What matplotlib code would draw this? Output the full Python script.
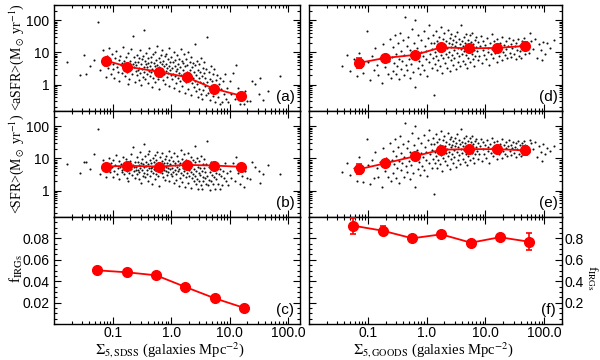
import numpy as np
import matplotlib
matplotlib.use('Agg')
import matplotlib.pyplot as plt
from matplotlib.ticker import LogLocator, NullFormatter, MultipleLocator

# ---------------- data ----------------
# binned values, SDSS (left column)
sdss_bin_x_ab = [0.076, 0.179, 0.614, 1.85, 5.28, 15.5]
sdss_asfr = [5.6, 3.6, 2.5, 1.7, 0.75, 0.45]
sdss_asfr_err_dex = [0.03, 0.03, 0.03, 0.03, 0.03, 0.04]
sdss_sfr = [5.6, 5.9, 5.6, 6.3, 6.0, 5.5]
sdss_sfr_err_dex = [0.03, 0.03, 0.03, 0.03, 0.03, 0.03]
sdss_bin_x_c = [0.054, 0.177, 0.554, 1.75, 5.56, 17.7]
sdss_firg = [0.0502, 0.0483, 0.0455, 0.0346, 0.0240, 0.0150]
sdss_firg_err = [0.0012, 0.0010, 0.0010, 0.0010, 0.0012, 0.0030]

# binned values, GOODS (right column)
goods_bin_x_de = [0.070, 0.194, 0.64, 1.77, 5.2, 15.8, 46.7]
goods_asfr = [4.7, 6.7, 8.4, 14.4, 13.4, 13.8, 15.9]
goods_asfr_err_dex = [0.15, 0.05, 0.05, 0.06, 0.05, 0.05, 0.12]
goods_sfr = [4.6, 7.0, 11.8, 18.7, 19.5, 19.5, 17.8]
goods_sfr_err_dex = [0.16, 0.05, 0.05, 0.06, 0.05, 0.05, 0.15]
goods_bin_x_f = [0.055, 0.179, 0.57, 1.77, 5.65, 17.5, 55.0]
goods_firg = [0.92, 0.872, 0.801, 0.838, 0.760, 0.811, 0.769]
goods_firg_err = [0.075, 0.042, 0.012, 0.015, 0.012, 0.028, 0.078]

# individual galaxies (log10 values), SDSS: density, aSFR, SFR
sdss_logx = [
    -1.774,-1.561,-1.483,-1.392,-1.253,-1.318,-1.207,-1.169,-1.142,-1.118,-1.101,-1.446,
    -1.083,-1.061,-1.047,-1.032,-1.014,-0.996,-0.987,-0.968,-0.953,-0.941,-0.925,-0.912,-0.897,-0.884,-0.873,-0.861,
    -0.846,-0.834,-0.822,-0.811,-0.798,-0.786,-0.773,-0.762,-0.749,-0.737,-0.724,-0.713,-0.701,-0.692,-0.681,-0.668,
    -0.657,-0.646,-0.638,-0.627,-0.619,-0.611,-0.604,-0.733,
    -0.596,-0.588,-0.579,-0.571,-0.563,-0.556,-0.548,-0.541,-0.532,-0.524,-0.517,-0.509,-0.502,-0.494,-0.487,-0.479,
    -0.471,-0.463,-0.456,-0.448,-0.441,-0.433,-0.426,-0.418,-0.411,-0.403,-0.396,-0.389,-0.381,-0.374,-0.366,-0.359,
    -0.351,-0.344,-0.336,-0.329,-0.321,-0.314,-0.306,-0.299,-0.291,-0.284,-0.276,-0.269,-0.261,-0.254,-0.246,-0.239,
    -0.231,-0.224,-0.216,-0.209,-0.201,-0.194,-0.186,-0.179,-0.171,-0.164,-0.156,-0.149,-0.141,-0.134,-0.126,-0.119,
    -0.111,-0.104,-0.096,-0.089,-0.081,-0.074,-0.066,-0.059,-0.051,-0.044,-0.036,-0.029,-0.021,-0.014,-0.006,
    0.003,0.011,0.018,0.026,0.034,0.041,0.049,0.057,0.064,0.072,0.079,0.087,0.095,0.102,0.110,0.117,
    0.125,0.133,0.140,0.148,0.156,0.163,0.171,0.178,0.186,0.194,0.201,0.209,0.216,0.224,0.232,0.239,
    0.247,0.254,0.262,0.270,0.277,0.285,0.293,0.300,0.308,0.315,0.323,0.331,0.338,0.346,0.353,0.361,
    0.369,0.376,0.384,0.391,0.399,0.407,0.414,0.422,0.429,0.437,0.445,0.452,0.460,0.467,0.475,0.483,
    0.490,0.498,0.505,0.513,0.521,0.528,0.536,0.543,0.551,0.559,0.566,0.574,0.582,0.589,0.597,
    0.608,0.619,0.627,0.638,0.649,0.657,0.668,0.679,0.687,0.698,0.709,0.717,0.728,0.739,0.751,0.762,
    0.773,0.787,0.798,0.812,0.826,0.839,0.853,0.868,0.884,0.901,0.917,0.934,0.956,0.973,0.998,1.027,
    1.054,1.082,1.113,1.146,1.172,
    1.214,1.262,1.301,1.342,1.384,1.423,1.497,1.563,1.648,1.858,1.521,1.239]
sdss_log_asfr = [
    0.702,0.291,0.913,0.584,1.947,0.776,0.438,1.062,0.617,0.238,0.884,0.327,
    0.523,1.137,0.716,0.342,0.957,0.481,0.638,0.213,0.824,1.046,0.557,0.402,0.761,0.118,0.903,0.594,
    0.347,0.682,1.184,0.462,0.719,0.258,0.866,0.533,0.391,0.978,0.615,0.176,0.744,0.488,1.093,0.327,
    0.652,1.503,0.541,0.843,0.074,0.702,0.419,0.028,
    0.612,0.283,0.927,0.456,0.708,0.132,0.839,0.519,1.062,0.364,0.647,-0.021,0.781,0.472,0.227,0.893,
    0.558,1.702,0.401,0.734,0.167,0.629,0.984,0.318,0.532,0.812,0.052,0.684,0.437,1.141,0.269,0.592,
    0.872,0.386,0.713,-0.087,0.498,0.941,0.214,0.657,0.423,1.018,0.571,0.093,0.764,0.347,0.603,1.194,
    0.452,0.186,0.826,0.539,-0.142,0.694,0.381,0.917,0.252,0.627,0.473,1.072,0.139,0.742,0.318,0.568,
    0.883,0.027,0.654,0.409,0.962,0.223,0.517,0.781,0.358,1.126,0.592,-0.053,0.447,0.716,0.284,
    0.861,0.512,0.163,0.698,0.341,1.027,-0.108,0.587,0.254,0.773,0.426,0.038,0.918,0.482,0.197,0.641,
    -0.213,0.372,0.809,0.113,0.556,1.117,0.298,0.727,-0.036,0.461,0.182,0.664,0.937,0.327,-0.274,0.571,
    0.089,0.783,0.402,0.236,0.618,-0.142,1.004,0.349,0.134,0.708,0.468,-0.327,0.274,0.852,0.041,0.533,
    0.191,0.679,-0.072,0.387,1.263,0.118,0.597,-0.213,0.306,0.742,0.026,0.448,-0.384,0.217,0.633,-0.128,
    0.379,0.094,0.812,-0.293,0.251,-0.452,0.517,0.057,-0.178,0.364,0.687,-0.036,0.198,-0.337,0.473,
    0.083,1.472,-0.262,0.392,-0.114,0.187,-0.497,0.578,-0.198,0.097,0.336,-0.362,-0.043,0.487,-0.554,0.142,
    -0.247,0.287,-0.403,0.012,-0.604,0.216,-0.146,-0.541,0.097,-0.298,0.342,-0.452,-0.097,-0.533,0.108,-0.302,
    0.348,-0.447,0.621,-0.121,-0.597,
    -0.352,-0.197,-0.503,-0.521,0.097,0.018,-0.304,-0.487,-0.198,0.27,0.21,-0.6]
sdss_log_sfr = [
    0.812,0.547,0.874,0.667,1.928,1.127,0.521,0.958,0.793,0.412,0.706,0.903,
    0.664,1.018,0.588,0.851,0.724,0.437,0.952,0.619,0.781,1.106,0.503,0.688,0.906,0.357,0.742,0.813,
    0.576,0.641,1.036,0.869,0.527,0.734,0.978,0.612,0.403,0.857,0.773,0.548,0.924,0.683,1.152,0.469,
    0.802,1.342,0.597,0.721,0.391,0.887,0.654,0.288,
    0.743,0.512,1.031,0.638,0.904,0.367,0.796,0.582,1.188,0.705,0.851,0.243,0.627,0.994,0.468,0.831,
    0.719,1.453,0.556,1.073,0.412,0.768,0.902,0.649,0.524,1.126,0.301,0.817,0.692,1.247,0.453,0.938,
    0.712,0.604,0.857,0.196,0.742,1.017,0.538,0.679,0.883,1.108,0.627,0.372,0.949,0.511,0.794,1.216,
    0.663,0.457,0.872,0.726,0.148,1.048,0.583,0.807,0.699,0.934,0.552,1.162,0.418,0.763,0.871,0.641,
    0.997,0.326,0.738,0.612,1.083,0.489,0.857,0.702,0.571,1.231,0.944,0.287,0.668,0.816,0.529,
    1.042,0.687,0.451,0.913,0.576,1.168,0.243,0.782,0.629,0.852,0.511,0.338,1.074,0.719,0.603,0.928,
    0.142,0.657,0.781,0.396,0.862,1.253,0.548,0.994,0.274,0.716,0.481,0.843,1.136,0.612,0.106,0.758,
    0.419,0.967,0.684,0.533,0.901,0.227,1.182,0.642,0.467,0.824,0.739,0.087,0.593,1.047,0.392,0.806,
    0.528,0.953,0.301,0.677,1.397,0.462,0.874,0.218,0.623,1.013,0.357,0.748,0.058,0.552,0.906,0.286,
    0.712,0.473,1.062,0.163,0.618,0.041,0.837,0.436,0.312,0.694,0.981,0.398,0.574,0.203,0.823,
    0.452,1.547,0.187,0.743,0.338,0.571,0.024,0.884,0.301,0.492,0.706,0.197,0.419,0.852,0.063,0.547,
    0.352,0.694,0.218,0.503,0.048,0.677,0.448,0.176,0.618,0.397,0.847,0.302,0.546,0.184,0.624,0.402,
    0.853,0.297,1.048,0.553,0.204,
    0.451,0.603,0.398,0.351,0.902,0.748,0.617,0.502,0.803,0.52,0.25,0.12]

# individual galaxies (log10 values), GOODS: density, aSFR, SFR
goods_logx = [
    -1.432,-1.358,-1.297,-1.241,-1.184,-1.152,-1.117,-1.074,-1.018,-0.992,-0.957,-0.931,-0.903,-0.872,-0.846,-0.819,
    -0.791,-0.762,-0.738,-0.714,-0.689,-0.663,-0.641,-0.622,-0.607,
    -0.592,-0.579,-0.566,-0.553,-0.541,-0.528,-0.516,-0.503,-0.491,-0.478,-0.466,-0.453,-0.441,-0.428,-0.416,-0.403,
    -0.391,-0.378,-0.366,-0.353,-0.341,-0.328,-0.316,-0.303,-0.291,-0.278,-0.266,-0.253,-0.241,-0.228,-0.216,-0.203,
    -0.191,-0.178,-0.166,-0.153,-0.141,-0.128,-0.116,-0.103,-0.091,-0.078,-0.066,-0.053,-0.041,-0.028,-0.016,-0.003,
    0.009,0.022,0.034,0.047,0.059,0.072,0.084,
    0.097,0.106,0.114,0.122,0.131,0.139,0.147,0.156,0.164,0.172,0.181,0.189,0.197,0.206,0.214,0.222,
    0.231,0.239,0.247,0.256,0.264,0.272,0.281,0.289,0.297,0.306,0.314,0.322,0.331,0.339,0.347,0.356,
    0.364,0.372,0.381,0.389,0.397,0.406,0.414,0.422,0.431,0.439,0.447,0.456,0.464,0.472,0.481,0.489,
    0.497,0.506,0.514,0.522,0.531,0.539,0.547,0.556,0.564,0.572,0.581,0.589,0.597,0.606,0.614,0.622,
    0.631,0.639,0.647,0.656,0.664,0.672,0.681,0.689,0.697,0.706,0.714,0.722,0.731,0.739,0.747,0.756,
    0.764,0.772,0.781,0.789,0.797,0.806,0.814,0.822,0.831,0.839,
    0.853,0.867,0.881,0.895,0.909,0.923,0.937,0.951,0.965,0.979,0.993,1.007,1.021,1.035,1.049,1.063,
    1.077,1.091,1.105,1.119,1.133,1.147,1.161,1.175,1.189,1.203,1.217,1.231,1.245,1.259,1.273,1.287,
    1.301,1.315,1.329,1.343,1.357,1.371,1.385,1.399,1.413,1.427,1.441,1.455,1.469,1.483,1.497,1.511,
    1.525,1.539,1.553,1.567,1.581,1.595,1.609,1.623,1.637,1.651,1.665,1.679,
    1.712,1.747,1.781,1.812,1.846,1.874,1.908,1.943,1.978,2.012,2.053,2.091,2.162,1.763,1.958]
goods_log_asfr = [
    0.571,0.934,0.412,0.783,0.262,0.997,0.533,0.348,1.682,0.711,0.127,0.884,0.463,1.148,0.612,0.298,
    0.827,0.049,1.263,0.542,0.962,0.336,0.718,1.407,0.193,
    0.873,0.427,1.162,0.684,1.537,0.318,0.952,0.563,1.284,0.162,0.803,1.612,0.497,1.043,0.724,1.386,
    0.283,0.912,2.118,0.618,1.197,0.447,1.472,0.782,0.217,1.068,0.653,1.734,0.932,0.378,1.303,2.021,
    -0.082,0.847,1.124,0.512,1.553,0.737,0.318,1.017,1.376,0.602,0.896,1.663,0.447,1.207,0.783,1.048,
    0.258,1.452,0.693,1.862,0.962,1.283,0.523,
    1.107,0.817,1.543,-0.312,1.286,0.642,1.012,1.672,0.893,1.364,0.462,1.187,0.758,1.472,1.038,0.586,
    1.263,1.793,0.927,1.142,0.347,1.418,0.812,1.068,1.597,0.683,1.226,0.957,1.347,0.527,1.124,1.703,
    0.873,1.292,1.003,0.417,1.452,0.768,1.172,1.563,0.918,1.247,0.623,1.383,1.067,0.837,1.518,1.198,
    0.473,1.312,0.982,1.642,0.714,1.152,1.428,0.887,1.262,0.568,1.093,1.847,0.953,1.357,0.742,1.187,
    1.487,1.032,0.632,1.293,0.917,1.583,1.127,0.512,1.402,0.842,1.213,1.052,1.532,0.693,1.168,1.332,
    0.963,1.617,0.783,1.247,1.078,0.587,1.392,0.903,1.183,1.468,
    1.037,0.752,1.312,0.897,1.187,1.512,0.663,1.083,1.367,0.927,1.228,0.783,1.437,1.012,1.153,0.612,
    1.282,0.947,1.562,1.103,0.838,1.347,0.972,1.212,0.713,1.417,1.067,0.887,1.297,1.142,0.763,1.482,
    1.018,1.242,0.917,1.357,1.093,0.812,1.203,1.452,0.987,1.263,0.862,1.127,1.372,0.952,1.187,0.782,
    1.307,1.062,1.412,0.897,1.232,1.043,0.823,1.347,1.112,1.453,0.962,1.248,
    1.187,0.973,1.353,1.092,1.412,0.842,1.257,1.063,1.334,0.947,1.297,1.147,1.402,1.602,0.761]
goods_log_sfr = [
    0.566,0.872,0.497,0.718,0.304,1.046,0.612,0.267,1.604,0.802,0.213,0.957,0.392,1.207,0.688,0.436,
    0.893,0.118,1.312,0.603,1.024,0.407,0.847,1.468,0.286,
    0.952,0.538,1.247,0.812,1.604,0.403,1.083,0.697,1.362,0.246,0.917,1.688,0.631,1.172,0.847,1.457,
    0.427,1.056,2.094,0.752,1.318,0.592,1.553,0.916,0.368,1.193,0.804,1.792,1.081,0.536,1.421,1.997,
    0.102,0.998,1.263,0.683,1.648,0.892,0.497,1.156,1.493,0.778,1.047,1.742,0.632,1.352,0.947,1.192,
    0.453,1.573,0.872,1.871,1.124,1.437,0.718,
    1.264,0.983,1.652,-0.103,1.438,0.853,1.186,1.753,1.062,1.512,0.708,1.347,0.967,1.604,1.223,0.812,
    1.428,1.862,1.118,1.312,0.612,1.563,1.027,1.257,1.713,0.912,1.403,1.163,1.508,0.784,1.306,1.804,
    1.083,1.464,1.207,0.683,1.597,0.992,1.363,1.682,1.131,1.432,0.868,1.547,1.274,1.058,1.647,1.389,
    0.746,1.483,1.197,1.752,0.953,1.347,1.572,1.112,1.447,0.823,1.296,1.903,1.172,1.518,0.982,1.384,
    1.624,1.248,0.893,1.468,1.143,1.692,1.326,0.788,1.552,1.087,1.407,1.264,1.643,0.942,1.368,1.497,
    1.184,1.708,1.028,1.437,1.286,0.862,1.538,1.127,1.372,1.593,
    1.236,0.984,1.472,1.127,1.373,1.617,0.912,1.284,1.506,1.153,1.412,1.023,1.562,1.227,1.352,0.872,
    1.453,1.176,1.647,1.312,1.078,1.497,1.206,1.398,0.968,1.552,1.283,1.132,1.462,1.337,1.012,1.593,
    1.247,1.417,1.153,1.503,1.312,1.064,1.387,1.567,1.218,1.432,1.107,1.334,1.512,1.183,1.372,1.043,
    1.468,1.287,1.537,1.142,1.404,1.263,1.076,1.487,1.323,1.552,1.192,1.418,
    1.342,1.213,1.467,1.287,1.513,1.047,1.402,1.198,1.452,1.143,1.318,1.247,1.383,1.578,0.928]

# tick labels
x_tick_vals = [0.1, 1, 10, 100]
x_tick_labels = ['0.1', '1.0', '10.0', '100.0']
log_y_tick_vals = [1, 10, 100]
log_y_tick_labels = ['1', '10', '100']
f_sdss_ticks = [0.02, 0.04, 0.06, 0.08]
f_goods_ticks = [0.2, 0.4, 0.6, 0.8]

# ---------------- style ----------------
plt.rcParams['font.family'] = ['Liberation Sans', 'DejaVu Sans']
plt.rcParams['mathtext.fontset'] = 'stix'
RED = '#ff0000'
SERIF = ['Liberation Serif', 'DejaVu Serif']

fig = plt.figure(figsize=(6, 3.6), dpi=100)
colx = [(0.09, 0.41), (0.515, 0.4217)]
rows = [(0.6917, 0.2944), (0.3972, 0.2944), (0.10, 0.2972)]
xlims = [(0.01, 158), (0.01, 200)]

axes = {}
for c in range(2):
    for r in range(3):
        ax = fig.add_axes([colx[c][0], rows[r][0], colx[c][1], rows[r][1]])
        axes[(r, c)] = ax
        ax.set_xscale('log')
        ax.set_xlim(*xlims[c])
        ax.set_xticks(x_tick_vals)
        ax.xaxis.set_minor_locator(LogLocator(base=10, subs=np.arange(2, 10), numticks=20))
        ax.xaxis.set_minor_formatter(NullFormatter())
        if r < 2:
            ax.set_xticklabels([])
            ax.set_yscale('log')
            ax.set_ylim(0.15, 300)
            ax.set_yticks(log_y_tick_vals)
            ax.yaxis.set_minor_locator(LogLocator(base=10, subs=np.arange(2, 10), numticks=20))
            ax.yaxis.set_minor_formatter(NullFormatter())
            if c == 0:
                ax.set_yticklabels(log_y_tick_labels)
            else:
                ax.set_yticklabels([])
        else:
            ax.set_xticklabels(x_tick_labels)
        ax.tick_params(which='both', direction='in', top=True, right=True, labelsize=10, width=0.8)
        ax.tick_params(which='major', length=5)
        ax.tick_params(which='minor', length=2.5)
        ax.tick_params(axis='x', pad=1.5)
        for s in ax.spines.values():
            s.set_linewidth(1.0)

# bottom panels linear y
ax = axes[(2, 0)]
ax.set_ylim(0, 0.1)
ax.set_yticks(f_sdss_ticks)
ax.set_yticklabels([f'{v:.2f}' for v in f_sdss_ticks])
ax.yaxis.set_minor_locator(MultipleLocator(0.005))
ax = axes[(2, 1)]
ax.set_ylim(0, 1.0)
ax.set_yticks(f_goods_ticks)
ax.set_yticklabels([f'{v:.1f}' for v in f_goods_ticks])
ax.yaxis.set_minor_locator(MultipleLocator(0.05))
ax.tick_params(axis='y', labelleft=False, labelright=True, pad=1.5)

def dexerr(y, d):
    y = np.asarray(y); d = np.asarray(d)
    return [y - y * 10 ** (-d), y * 10 ** d - y]

def pts(lx, ly):
    n = min(len(lx), len(ly))
    return 10 ** np.asarray(lx[:n]), 10 ** np.asarray(ly[:n])

dot_kw = dict(ls='none', marker='o', ms=1.5, mew=0, color='#111111', zorder=1)
line_kw = dict(fmt='-o', color=RED, ms=7, lw=1.3, elinewidth=1.2, capsize=2.5, capthick=1.2, zorder=3)

axes[(0, 0)].plot(*pts(sdss_logx, sdss_log_asfr), **dot_kw)
axes[(0, 0)].errorbar(sdss_bin_x_ab, sdss_asfr, yerr=dexerr(sdss_asfr, sdss_asfr_err_dex), **line_kw)
axes[(1, 0)].plot(*pts(sdss_logx, sdss_log_sfr), **dot_kw)
axes[(1, 0)].errorbar(sdss_bin_x_ab, sdss_sfr, yerr=dexerr(sdss_sfr, sdss_sfr_err_dex), **line_kw)
axes[(2, 0)].errorbar(sdss_bin_x_c, sdss_firg, yerr=sdss_firg_err, **line_kw)

axes[(0, 1)].plot(*pts(goods_logx, goods_log_asfr), **dot_kw)
axes[(0, 1)].errorbar(goods_bin_x_de, goods_asfr, yerr=dexerr(goods_asfr, goods_asfr_err_dex), **line_kw)
axes[(1, 1)].plot(*pts(goods_logx, goods_log_sfr), **dot_kw)
axes[(1, 1)].errorbar(goods_bin_x_de, goods_sfr, yerr=dexerr(goods_sfr, goods_sfr_err_dex), **line_kw)
axes[(2, 1)].errorbar(goods_bin_x_f, goods_firg, yerr=goods_firg_err, **line_kw)

letters = {(0, 0): '(a)', (1, 0): '(b)', (2, 0): '(c)', (0, 1): '(d)', (1, 1): '(e)', (2, 1): '(f)'}
for (r, c), t in letters.items():
    axes[(r, c)].text(0.94 if c == 0 else 0.945, 0.13, t, transform=axes[(r, c)].transAxes,
                      ha='center', va='center', fontsize=11)

# axis labels
fig.text(0.027, 1 - 57 / 360, r'<aSFR>(M$_\odot$ yr$^{-1}$)', rotation=90, ha='center', va='center',
         fontsize=10, family=SERIF)
fig.text(0.027, 1 - 164 / 360, r'<SFR>(M$_\odot$ yr$^{-1}$)', rotation=90, ha='center', va='center',
         fontsize=10, family=SERIF)
fig.text(0.027, 1 - 268 / 360, r'f$_{\rm IRGs}$', rotation=90, ha='center', va='center',
         fontsize=11, family=SERIF)
fig.text(0.988, 1 - 278 / 360, r'f$_{\rm IRGs}$', rotation=-90, ha='center', va='center',
         fontsize=9.5, family=SERIF)
fig.text(0.283, 0.0, r'$\Sigma_{\rm 5,SDSS}$ (galaxies Mpc$^{-2}$)', ha='center', va='bottom',
         fontsize=10.5, family=SERIF)
fig.text(0.723, 0.0, r'$\Sigma_{\rm 5,GOODS}$ (galaxies Mpc$^{-2}$)', ha='center', va='bottom',
         fontsize=10.5, family=SERIF)

fig.savefig('out.png', dpi=100)
